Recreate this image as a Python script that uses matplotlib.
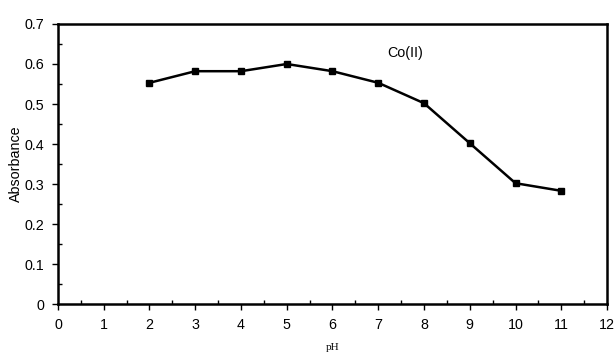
import matplotlib.pyplot as plt
from matplotlib.ticker import MultipleLocator

ph = [2, 3, 4, 5, 6, 7, 8, 9, 10, 11]
absorbance = [0.553, 0.582, 0.582, 0.600, 0.582, 0.553, 0.502, 0.402, 0.302, 0.283]

fig = plt.figure(figsize=(6.15, 3.56), dpi=100)
ax = fig.add_axes([0.0943, 0.146, 0.8927, 0.7866])

ax.plot(ph, absorbance, color="black", linewidth=1.8, marker="s", markersize=5)

ax.set_xlim(0, 12)
ax.set_ylim(0, 0.7)
ax.xaxis.set_major_locator(MultipleLocator(1))
ax.xaxis.set_minor_locator(MultipleLocator(0.5))
ax.yaxis.set_major_locator(MultipleLocator(0.1))
ax.yaxis.set_minor_locator(MultipleLocator(0.05))
ax.set_yticklabels([f"{v:g}" for v in ax.get_yticks()])

for s in ax.spines.values():
    s.set_linewidth(1.8)

ax.tick_params(which="major", direction="out", length=4, width=1, labelsize=10.3, pad=6)
ax.tick_params(which="minor", direction="in", length=3, width=1)
for lab in ax.get_xticklabels() + ax.get_yticklabels():
    lab.set_fontfamily("Liberation Sans")

ax.set_xlabel("pH", fontsize=8, fontfamily="Liberation Serif", labelpad=8)
ax.set_ylabel("Absorbance", fontsize=10.3, fontfamily="Liberation Sans", labelpad=1)
ax.text(7.2, 0.627, "Co(II)", fontsize=10.3, fontfamily="Liberation Sans", va="center")

fig.savefig("out.png", dpi=100)
